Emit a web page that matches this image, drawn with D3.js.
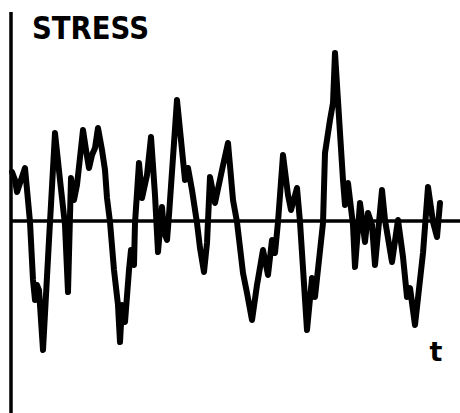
<!DOCTYPE html>
<html><head><meta charset="utf-8">
<script src="https://cdn.jsdelivr.net/npm/d3@7"></script>
<style>html,body{margin:0;padding:0;background:#fff;}svg{display:block;}</style>
</head><body>
<script>
// time (arbitrary units) and stress (arbitrary units)
const time = [1,4,6,10,14,19,22,24,26,28,32,38,44,49,54,57,60,63,66,72,75,78,81,84,87,91,94,96,99,103,107,109,111,114,118,120,123,124,128,131,136,140,144,147,151,153,156,158,166,169,174,177,181,186,189,193,196,199,204,211,217,222,226,232,236,241,246,252,257,261,264,267,272,277,280,286,289,296,301,304,312,314,319,322,324,329,332,334,337,342,344,349,354,357,361,364,371,374,381,387,392,396,399,404,412,417,422,426,429];
const stress = [4.9,4.1,2.9,4.1,5.3,-0.1,-5.9,-7.9,-6.4,-6.9,-12.9,-1.9,8.8,4.1,-0.4,-7.1,4.3,2.1,3.6,9.1,7.1,5.3,6.6,7.3,9.3,7.1,5.1,2.3,-0.1,-4.9,-8.4,-12.1,-8.4,-10.1,-4.9,-2.9,-4.4,-0.2,5.8,2.3,4.6,8.4,2.6,-3.1,1.4,-1.1,-1.9,0.6,12.1,9.1,4.1,5.3,3.1,-0.2,-2.7,-5.1,-2.2,4.4,1.8,5.1,7.8,2.1,-0.1,-5.2,-7.2,-9.9,-6.4,-2.9,-5.4,-1.9,-3.2,-0.1,6.6,2.6,1.1,3.3,-0.1,-10.9,-5.7,-7.6,-0.2,6.8,10.1,11.8,16.8,8.8,4.1,1.6,3.8,-0.4,-4.6,1.8,-2.1,0.8,-0.4,-4.4,3.1,0.1,-4.1,0.1,-3.6,-7.6,-6.7,-10.4,-3.2,3.4,-0.1,-1.6,1.8];
const axisLabelY = "STRESS";
const axisLabelX = "t";

const W = 460, H = 413;
const svg = d3.select("body").append("svg").attr("width", W).attr("height", H);

const x = d3.scaleLinear().domain([0, 450]).range([11, 461]);
const y = d3.scaleLinear().domain([-19.1, 20.9]).range([412, 12]);

// axes
svg.append("line").attr("x1", x(0)).attr("x2", x(0)).attr("y1", y(20.9)).attr("y2", y(-19.1) + 2)
  .attr("stroke", "#000").attr("stroke-width", 3.5);
svg.append("line").attr("x1", x(-1)).attr("x2", x(450)).attr("y1", y(0)).attr("y2", y(0))
  .attr("stroke", "#000").attr("stroke-width", 3.5);

const line = d3.line().x((d,i) => x(time[i])).y(d => y(d)).curve(d3.curveLinear);
svg.append("path").datum(stress).attr("d", line)
  .attr("fill", "none").attr("stroke", "#000").attr("stroke-width", 6)
  .attr("stroke-linejoin", "round").attr("stroke-linecap", "round");

svg.append("text").attr("x", 32).attr("y", 39).text(axisLabelY)
  .attr("font-family", "DejaVu Sans").attr("font-size", 32).attr("font-weight", "bold")
  .attr("fill", "#000").attr("textLength", 117).attr("lengthAdjust", "spacingAndGlyphs");
svg.append("text").attr("x", 436).attr("y", 361).attr("text-anchor", "middle").text(axisLabelX)
  .attr("font-family", "DejaVu Sans").attr("font-size", 27).attr("font-weight", "bold").attr("fill", "#000");
</script>
</body></html>
